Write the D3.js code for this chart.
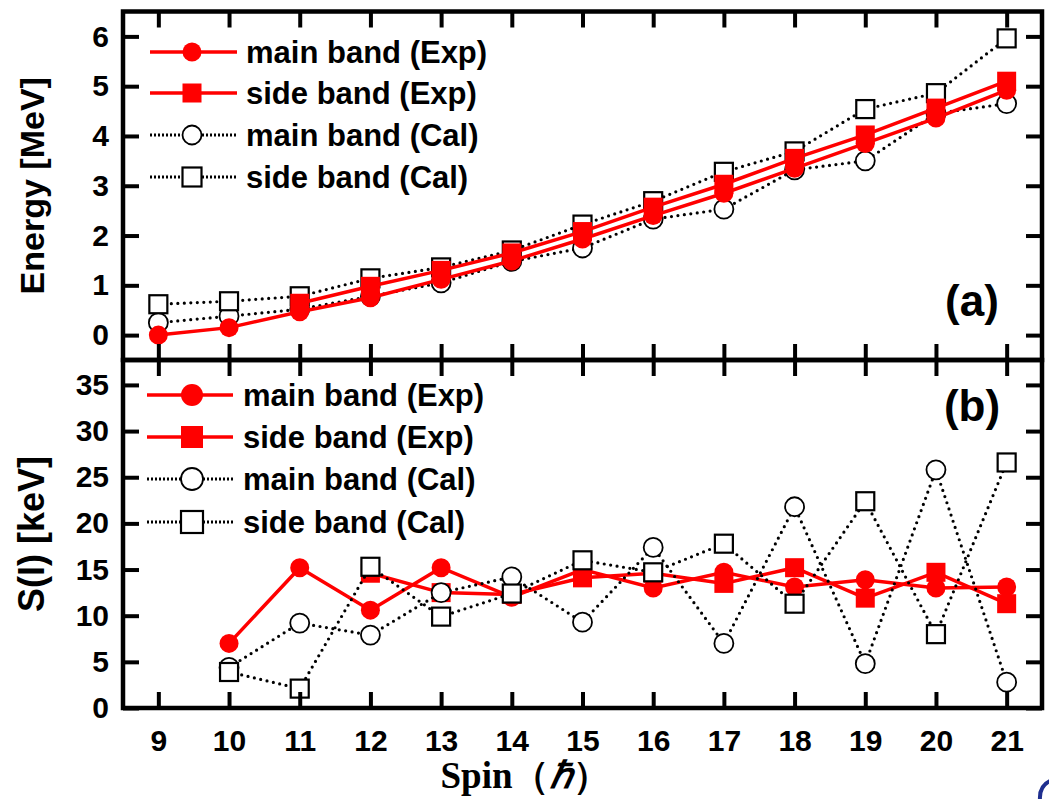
<!DOCTYPE html>
<html>
<head>
<meta charset="utf-8">
<script src="https://cdn.jsdelivr.net/npm/d3@7"></script>
<style>
  body { margin: 0; background: #fff; }
  text { font-family: "Liberation Sans", Arial, sans-serif; font-weight: bold; }
</style>
</head>
<body>
<svg id="chart"></svg>
<script>
const spins = [9, 10, 11, 12, 13, 14, 15, 16, 17, 18, 19, 20, 21];

// (a) energies, MeV
const mainExpE = [0.00, 0.15, 0.47, 0.75, 1.12, 1.49, 1.93, 2.40, 2.85, 3.35, 3.85, 4.36, 4.92];
const sideExpE = [null, null, 0.64, 0.98, 1.30, 1.65, 2.08, 2.57, 3.03, 3.55, 4.02, 4.56, 5.10];
const mainCalE = [0.25, 0.38, 0.52, 0.78, 1.05, 1.48, 1.75, 2.33, 2.53, 3.32, 3.50, 4.45, 4.65];
const sideCalE = [0.62, 0.68, 0.78, 1.14, 1.36, 1.70, 2.22, 2.69, 3.28, 3.69, 4.54, 4.86, 5.96];

// (b) staggering S(I), keV
const mainExpS = [null, 7.0, 15.2, 10.6, 15.2, 12.0, 15.0, 13.0, 14.7, 13.1, 13.9, 13.0, 13.1];
const sideExpS = [null, null, null, 14.6, 12.5, 12.3, 14.1, 14.6, 13.5, 15.2, 11.9, 14.7, 11.3];
const mainCalS = [null, 4.4, 9.2, 7.9, 12.5, 14.2, 9.3, 17.4, 7.0, 21.8, 4.8, 25.8, 2.8];
const sideCalS = [null, 3.9, 2.1, 15.3, 9.9, 12.4, 16.0, 14.7, 17.8, 11.3, 22.4, 8.0, 26.6];

const energyTicks = [0, 1, 2, 3, 4, 5, 6];
const sTicks = [0, 5, 10, 15, 20, 25, 30, 35];
const legendNames = ['main band (Exp)', 'side band (Exp)', 'main band (Cal)', 'side band (Cal)'];

const W = 1049, H = 799;
const left = 123, right = 1042;
const topA = 11.5, midY = 360, botB = 708;

const svg = d3.select('#chart').attr('width', W).attr('height', H);
svg.append('rect').attr('width', W).attr('height', H).attr('fill', '#fff');

const x = d3.scaleLinear().domain([8.5, 21.5]).range([left, right]);
const yE = d3.scaleLinear().domain([-0.5, 6.5]).range([midY, topA]);
const yS = d3.scaleLinear().domain([0, 37.7]).range([botB, midY]);

const red = '#ff0000';

function frameAxes(y, yTop, yBot, ticks, showX) {
    const g = svg.append('g');
    g.append('g').attr('transform', `translate(${left},0)`)
        .call(d3.axisLeft(y).tickValues(ticks).tickSizeInner(-16).tickSizeOuter(0).tickPadding(14)
            .tickFormat(d3.format('d')));
    g.append('g').attr('transform', `translate(${right},0)`)
        .call(d3.axisRight(y).tickValues(ticks).tickSizeInner(-16).tickSizeOuter(0).tickFormat(''));
    g.append('g').attr('transform', `translate(0,${yTop})`)
        .call(d3.axisTop(x).tickValues(spins).tickSizeInner(-16).tickSizeOuter(0).tickFormat(''));
    g.append('g').attr('transform', `translate(0,${yBot})`)
        .call(d3.axisBottom(x).tickValues(spins).tickSizeInner(-16).tickSizeOuter(0).tickPadding(22)
            .tickFormat(showX ? d3.format('d') : ''));
    g.selectAll('.domain').remove();
    g.selectAll('.tick line').attr('stroke', '#000').attr('stroke-width', 4);
    g.selectAll('.tick text').attr('fill', '#000').attr('font-size', 30)
        .style('font-family', '"Liberation Sans", Arial, sans-serif').style('font-weight', 'bold');
    g.append('rect').attr('x', left).attr('y', yTop).attr('width', right - left).attr('height', yBot - yTop)
        .attr('fill', 'none').attr('stroke', '#000').attr('stroke-width', 4.5);
    return g;
}

function series(vals) {
    return spins.map((s, i) => ({ s, v: vals[i] })).filter(d => d.v != null);
}

function drawLine(g, vals, y, dotted) {
    const line = d3.line().x(d => x(d.s)).y(d => y(d.v));
    g.append('path').datum(series(vals)).attr('d', line).attr('fill', 'none')
        .attr('stroke', dotted ? '#000' : red)
        .attr('stroke-width', dotted ? 3.2 : 3.5)
        .attr('stroke-linecap', 'round')
        .attr('stroke-dasharray', dotted ? '0 6.5' : null);
}

function drawMarks(g, vals, y, kind) {
    const pts = series(vals);
    if (kind === 'fc') {
        g.selectAll(null).data(pts).enter().append('circle')
            .attr('cx', d => x(d.s)).attr('cy', d => y(d.v)).attr('r', 9.5).attr('fill', red);
    } else if (kind === 'fs') {
        g.selectAll(null).data(pts).enter().append('rect')
            .attr('x', d => x(d.s) - 9.5).attr('y', d => y(d.v) - 9.5).attr('width', 19).attr('height', 19).attr('fill', red);
    } else if (kind === 'oc') {
        g.selectAll(null).data(pts).enter().append('circle')
            .attr('cx', d => x(d.s)).attr('cy', d => y(d.v)).attr('r', 9.5)
            .attr('fill', '#fff').attr('stroke', '#000').attr('stroke-width', 1.8);
    } else {
        g.selectAll(null).data(pts).enter().append('rect')
            .attr('x', d => x(d.s) - 9).attr('y', d => y(d.v) - 9).attr('width', 18).attr('height', 18)
            .attr('fill', '#fff').attr('stroke', '#000').attr('stroke-width', 2.2);
    }
}

function legend(x0, x1, xm, xt, rows, rMark) {
    const kinds = ['fc', 'fs', 'oc', 'os'];
    const lg = svg.append('g');
    rows.forEach((ry, i) => {
        const dotted = i > 1;
        lg.append('line').attr('x1', x0).attr('x2', x1).attr('y1', ry).attr('y2', ry)
            .attr('stroke', dotted ? '#000' : red).attr('stroke-width', dotted ? 3 : 3.5)
            .attr('stroke-dasharray', dotted ? '2 2' : null);
        const k = kinds[i];
        if (k === 'fc') lg.append('circle').attr('cx', xm).attr('cy', ry).attr('r', rMark).attr('fill', red);
        if (k === 'fs') lg.append('rect').attr('x', xm - rMark).attr('y', ry - rMark).attr('width', 2 * rMark).attr('height', 2 * rMark).attr('fill', red);
        if (k === 'oc') lg.append('circle').attr('cx', xm).attr('cy', ry).attr('r', rMark)
            .attr('fill', '#fff').attr('stroke', '#000').attr('stroke-width', 1.8);
        if (k === 'os') lg.append('rect').attr('x', xm - rMark).attr('y', ry - rMark).attr('width', 2 * rMark).attr('height', 2 * rMark)
            .attr('fill', '#fff').attr('stroke', '#000').attr('stroke-width', 2.2);
        lg.append('text').attr('x', xt).attr('y', ry + 11).attr('font-size', 31).attr('fill', '#000')
            .text(legendNames[i]);
    });
}

// panel (a)
const gA = svg.append('g');
drawLine(gA, mainCalE, yE, true);
drawLine(gA, sideCalE, yE, true);
drawMarks(gA, mainCalE, yE, 'oc');
drawMarks(gA, sideCalE, yE, 'os');
drawLine(gA, mainExpE, yE, false);
drawLine(gA, sideExpE, yE, false);
drawMarks(gA, mainExpE, yE, 'fc');
drawMarks(gA, sideExpE, yE, 'fs');

// panel (b)
const gB = svg.append('g');
drawLine(gB, mainExpS, yS, false);
drawLine(gB, sideExpS, yS, false);
drawMarks(gB, mainExpS, yS, 'fc');
drawMarks(gB, sideExpS, yS, 'fs');
drawLine(gB, mainCalS, yS, true);
drawLine(gB, sideCalS, yS, true);
drawMarks(gB, mainCalS, yS, 'oc');
drawMarks(gB, sideCalS, yS, 'os');

frameAxes(yE, topA, midY, energyTicks, false);
frameAxes(yS, midY, botB, sTicks, true);

legend(150, 237, 192, 246, [52, 93, 135, 177], 9.5);
legend(147, 233, 192, 243, [395, 437, 479, 522], 11);

svg.append('text').attr('x', 972).attr('y', 316).attr('text-anchor', 'middle')
    .attr('font-size', 44).attr('fill', '#000').text('(a)');
svg.append('text').attr('x', 972).attr('y', 421).attr('text-anchor', 'middle')
    .attr('font-size', 44).attr('fill', '#000').text('(b)');

svg.append('text').attr('transform', `translate(44,${(topA + midY) / 2}) rotate(-90)`)
    .attr('text-anchor', 'middle').attr('font-size', 34).attr('fill', '#000').text('Energy [MeV]');
svg.append('text').attr('transform', `translate(44,${(midY + botB) / 2}) rotate(-90)`)
    .attr('text-anchor', 'middle').attr('font-size', 36).attr('fill', '#000').text('S(I) [keV]');

const xt = svg.append('text').attr('x', 525).attr('y', 788).attr('text-anchor', 'middle')
    .attr('font-size', 37).attr('fill', '#000')
    .style('font-family', '"Liberation Serif", "Times New Roman", serif');
xt.append('tspan').text('Spin（');
xt.append('tspan').attr('font-style', 'italic').text('ℏ');
xt.append('tspan').text('）');

// stray blue arc cut by the right edge of the source image
svg.append('path').attr('d', 'M1040,800 Q1039,786 1050,781')
    .attr('fill', 'none').attr('stroke', '#1f2f8f').attr('stroke-width', 4);
</script>
</body>
</html>
